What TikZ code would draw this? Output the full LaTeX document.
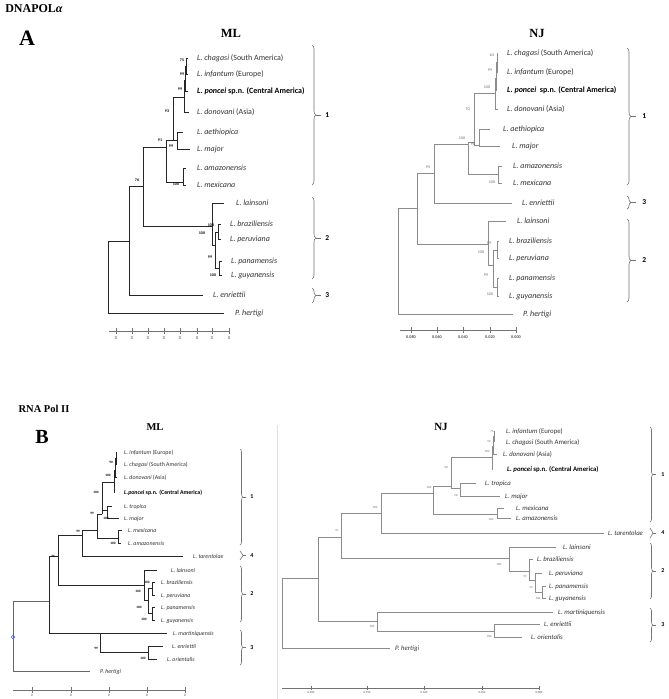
\documentclass[tikz,border=0pt]{standalone}
\usepackage{fontspec}
\setmainfont{Carlito}
\newfontfamily\headfont{Liberation Serif}
\usetikzlibrary{decorations.pathreplacing}

\begin{document}
\begin{tikzpicture}[x=1pt, y=-1pt,
        leaf/.style={anchor=west, inner sep=0pt, text height=0.7em, text depth=0.2em, text=black!80},
        lfa/.style={leaf, font=\fontsize{8}{9}\selectfont},
        lfb/.style={leaf, font=\fontsize{5.9}{7}\selectfont},
        lfn/.style={leaf, font=\fontsize{6.8}{8}\selectfont},
        ml/.style={draw=black!85, line width=0.9pt},
        nj/.style={draw=black!45, line width=0.7pt},
        bs/.style={inner sep=0pt, font=\bfseries\fontsize{4}{4}\selectfont},
        bsb/.style={inner sep=0pt, font=\bfseries\fontsize{3.4}{4}\selectfont},
        bsn/.style={inner sep=0pt, text=black!60, font=\fontsize{4}{4}\selectfont},
        bsm/.style={inner sep=0pt, text=black!60, font=\fontsize{3}{3}\selectfont},
        clade/.style={draw=black!55, line width=0.6pt, decorate, decoration={brace, amplitude=4pt}},
        cnum/.style={right=4pt, inner sep=0pt, text=black, font=\bfseries\fontsize{7.5}{8}\selectfont},
        cnumb/.style={right=3pt, inner sep=0pt, text=black, font=\bfseries\fontsize{6}{7}\selectfont},
        title/.style={inner sep=0pt, font=\headfont\bfseries\fontsize{12.5}{13}\selectfont},
        scl/.style={draw=black!55, line width=0.5pt},
        sclt/.style={inner sep=0pt, text=black!70, font=\fontsize{4.5}{5}\selectfont}]

    \path[use as bounding box, fill=white] (0,0) rectangle (669,699);

    % headings
    \node[title, font=\headfont\bfseries\fontsize{12}{13}\selectfont] (tDna) at (34,9) {DNAPOL\textit{α}};
    \node[title, font=\headfont\bfseries\fontsize{22}{24}\selectfont] (tA) at (27,38) {A};
    \node[title] (tMlA) at (231,33) {ML};
    \node[title] (tNjA) at (537,33) {NJ};
    \node[title, font=\headfont\bfseries\fontsize{10.5}{12}\selectfont] (tRna) at (44,409) {RNA Pol II};
    \node[title, font=\headfont\bfseries\fontsize{20}{22}\selectfont] (tB) at (42,437) {B};
    \node[title, font=\headfont\bfseries\fontsize{10.5}{12}\selectfont] (tMlB) at (155,427) {ML};
    \node[title, font=\headfont\bfseries\fontsize{11}{12}\selectfont] (tNjB) at (441,427) {NJ};

    % ---------- A, ML ----------
    \node[lfa] (aChag) at (197,58) {\textit{L. chagasi} (South America)};
    \node[lfa] (aInf) at (197,74) {\textit{L. infantum} (Europe)};
    \node[lfa, text=black] (aPon) at (197,91) {\textbf{\textit{L. poncei} sp.n. (Central America)}};
    \node[lfa] (aDon) at (197,112) {\textit{L. donovani} (Asia)};
    \node[lfa] (aAet) at (197,132) {\textit{L. aethiopica}};
    \node[lfa] (aMaj) at (197,149) {\textit{L. major}};
    \node[lfa] (aAma) at (197,168) {\textit{L. amazonensis}};
    \node[lfa] (aMex) at (197,185) {\textit{L. mexicana}};
    \node[lfa] (aLai) at (236,203) {\textit{L. lainsoni}};
    \node[lfa] (aBra) at (230,224) {\textit{L. braziliensis}};
    \node[lfa] (aPer) at (230,239) {\textit{L. peruviana}};
    \node[lfa] (aPan) at (231,261) {\textit{L. panamensis}};
    \node[lfa] (aGuy) at (231,275) {\textit{L. guyanensis}};
    \node[lfa] (aEnr) at (213,295) {\textit{L. enriettii}};
    \node[lfa] (aHer) at (235,313) {\textit{P. hertigi}};

    \coordinate (a1) at (186,66);
    \coordinate (a2) at (185,80);
    \coordinate (a3) at (184,97);
    \coordinate (a4) at (177,140);
    \coordinate (a5) at (173,140);
    \coordinate (a6) at (183,182);
    \coordinate (a7) at (166,147);
    \coordinate (a8) at (218,232);
    \coordinate (a9) at (219,268);
    \coordinate (a10) at (215,245);
    \coordinate (a11) at (212,226);
    \coordinate (a12) at (143,186);
    \coordinate (a13) at (129,241);
    \coordinate (aRoot) at (108,241);

    \draw[ml] (a1) |- ([xshift=-9pt]aChag.west) (a1) |- ([xshift=-9pt]aInf.west);
    \draw[ml] (a2) |- (a1) (a2) |- ([xshift=-9pt]aPon.west);
    \draw[ml] (a3) |- (a2) (a3) |- ([xshift=-8pt]aDon.west);
    \draw[ml] (a4) |- ([xshift=-14pt]aAet.west) (a4) |- ([xshift=-7pt]aMaj.west);
    \draw[ml] (a5) |- (a3) (a5) |- (a4);
    \draw[ml] (a6) |- ([xshift=-11pt]aAma.west) (a6) |- ([xshift=-11pt]aMex.west);
    \draw[ml] (a7) |- (a5) (a7) |- (a6);
    \draw[ml] (a8) |- ([xshift=-9pt]aBra.west) (a8) |- ([xshift=-9pt]aPer.west);
    \draw[ml] (a9) |- ([xshift=-9pt]aPan.west) (a9) |- ([xshift=-9pt]aGuy.west);
    \draw[ml] (a10) |- (a8) (a10) |- (a9);
    \draw[ml] (a11) |- ([xshift=-12pt]aLai.west) (a11) |- (a10);
    \draw[ml] (a12) |- (a7) (a12) |- (a11);
    \draw[ml] (a13) |- (a12) (a13) |- ([xshift=-10pt]aEnr.west);
    \draw[ml] (aRoot) |- (a13) (aRoot) |- ([xshift=-11pt]aHer.west);

    \node[bs] (sa1) at (182,60) {75};
    \node[bs] (sa2) at (182,74) {99};
    \node[bs] (sa3) at (180,89) {99};
    \node[bs] (sa4) at (167,111) {93};
    \node[bs] (sa5) at (160,140) {91};
    \node[bs] (sa6) at (171,146) {99};
    \node[bs] (sa7) at (176,184) {100};
    \node[bs] (sa8) at (137,180) {76};
    \node[bs] (sa9) at (211,225) {100};
    \node[bs] (sa10) at (202,233) {100};
    \node[bs] (sa11) at (210,257) {99};
    \node[bs] (sa12) at (213,275) {100};

    \coordinate (ka1t) at (312,45);  \coordinate (ka1b) at (312,185);
    \coordinate (ka2t) at (312,197); \coordinate (ka2b) at (312,279);
    \coordinate (ka3t) at (312,288); \coordinate (ka3b) at (312,303);
    \draw[clade] (ka1t) -- node[midway, cnum] (na1) {\textcolor{black!55}{\rule[.25em]{5pt}{.6pt}}\hspace{4pt}1} (ka1b);
    \draw[clade] (ka2t) -- node[midway, cnum] (na2) {\textcolor{black!55}{\rule[.25em]{5pt}{.6pt}}\hspace{4pt}2} (ka2b);
    \draw[clade] (ka3t) -- node[midway, cnum] (na3) {\textcolor{black!55}{\rule[.25em]{5pt}{.6pt}}\hspace{4pt}3} (ka3b);

    \draw[scl] (109,331) -- (229,331);
    \foreach \x [count=\i] in {116,132,148,164,180,197,212,229}
        \draw[scl] (\x,328) -- (\x,334) node[sclt, below=2pt] (qa\i) {0};

    % ---------- A, NJ ----------
    \node[lfa] (bChag) at (507,53) {\textit{L. chagasi} (South America)};
    \node[lfa] (bInf) at (507,72) {\textit{L. infantum} (Europe)};
    \node[lfa, text=black] (bPon) at (507,90) {\textbf{\textit{L. poncei}\ \ sp.n. (Central America)}};
    \node[lfa] (bDon) at (507,109) {\textit{L. donovani} (Asia)};
    \node[lfa] (bAet) at (503,129) {\textit{L. aethiopica}};
    \node[lfa] (bMaj) at (512,146) {\textit{L. major}};
    \node[lfa] (bAma) at (513,166) {\textit{L. amazonensis}};
    \node[lfa] (bMex) at (513,183) {\textit{L. mexicana}};
    \node[lfa] (bEnr) at (522,203) {\textit{L. enriettii}};
    \node[lfa] (bLai) at (517,221) {\textit{L. lainsoni}};
    \node[lfa] (bBra) at (509,241) {\textit{L. braziliensis}};
    \node[lfa] (bPer) at (509,258) {\textit{L. peruviana}};
    \node[lfa] (bPan) at (509,278) {\textit{L. panamensis}};
    \node[lfa] (bGuy) at (509,296) {\textit{L. guyanensis}};
    \node[lfa] (bHer) at (523,314) {\textit{P. hertigi}};

    \coordinate (b1) at (497,62);
    \coordinate (b2) at (496,78);
    \coordinate (b3) at (495,93);
    \coordinate (b4) at (479,145);
    \coordinate (b5) at (474,142);
    \coordinate (b6) at (468,144);
    \coordinate (b7) at (498,174);
    \coordinate (b8) at (434,173);
    \coordinate (b9) at (497,250);
    \coordinate (b10) at (497,287);
    \coordinate (b11) at (493,265);
    \coordinate (b12) at (488,244);
    \coordinate (b13) at (417,208);
    \coordinate (bRoot) at (398,208);

    \draw[nj] (b1) |- ([xshift=-9pt]bChag.west) (b1) |- ([xshift=-9pt]bInf.west);
    \draw[nj] (b2) |- (b1) (b2) |- ([xshift=-10pt]bPon.west);
    \draw[nj] (b3) |- (b2) (b3) |- ([xshift=-9pt]bDon.west);
    \draw[nj] (b4) |- ([xshift=-13pt]bAet.west) (b4) |- ([xshift=-12pt]bMaj.west);
    \draw[nj] (b5) |- (b3) (b5) |- (b4);
    \draw[nj] (b7) |- ([xshift=-11pt]bAma.west) (b7) |- ([xshift=-11pt]bMex.west);
    \draw[nj] (b6) |- (b5) (b6) |- (b7);
    \draw[nj] (b8) |- (b6) (b8) |- ([xshift=-10pt]bEnr.west);
    \draw[nj] (b9) |- ([xshift=-10pt]bBra.west) (b9) |- ([xshift=-10pt]bPer.west);
    \draw[nj] (b10) |- ([xshift=-10pt]bPan.west) (b10) |- ([xshift=-10pt]bGuy.west);
    \draw[nj] (b11) |- (b9) (b11) |- (b10);
    \draw[nj] (b12) |- ([xshift=-11pt]bLai.west) (b12) |- (b11);
    \draw[nj] (b13) |- (b8) (b13) |- (b12);
    \draw[nj] (bRoot) |- (b13) (bRoot) |- ([xshift=-10pt]bHer.west);

    \node[bsn] (sb1) at (492,55) {63};
    \node[bsn] (sb2) at (490,70) {99};
    \node[bsn] (sb3) at (487,87) {100};
    \node[bsn] (sb4) at (468,109) {92};
    \node[bsn] (sb5) at (462,138) {100};
    \node[bsn] (sb6) at (473,144) {98};
    \node[bsn] (sb7) at (492,182) {100};
    \node[bsn] (sb8) at (428,167) {95};
    \node[bsn] (sb9) at (489,243) {99};
    \node[bsn] (sb10) at (481,252) {100};
    \node[bsn] (sb11) at (486,275) {99};
    \node[bsn] (sb12) at (490,294) {100};

    \coordinate (kb1t) at (627,48);  \coordinate (kb1b) at (627,185);
    \coordinate (kb3t) at (627,196); \coordinate (kb3b) at (627,209);
    \coordinate (kb2t) at (627,219); \coordinate (kb2b) at (627,302);
    \draw[clade] (kb1t) -- node[midway, cnum] (nb1) {\textcolor{black!55}{\rule[.25em]{5pt}{.6pt}}\hspace{6pt}1} (kb1b);
    \draw[clade] (kb3t) -- node[midway, cnum] (nb3) {\textcolor{black!55}{\rule[.25em]{5pt}{.6pt}}\hspace{6pt}3} (kb3b);
    \draw[clade] (kb2t) -- node[midway, cnum] (nb2) {\textcolor{black!55}{\rule[.25em]{5pt}{.6pt}}\hspace{6pt}2} (kb2b);

    \draw[scl] (400,330) -- (516,330);
    \foreach \x/\v [count=\i] in {411/0.080, 437/0.060, 463/0.040, 490/0.020, 516/0.000}
        \draw[scl] (\x,327) -- (\x,333) node[sclt, below=2pt, font=\bfseries\fontsize{4.2}{5}\selectfont] (qb\i) {\v};

    % ---------- B, ML ----------
    \node[lfb] (cInf) at (124,452) {\textit{L. infantum} (Europe)};
    \node[lfb] (cChag) at (124,464) {\textit{L. chagasi} (South America)};
    \node[lfb] (cDon) at (124,477) {\textit{L. donovani} (Asia)};
    \node[lfb, text=black] (cPon) at (124,492) {\textbf{\textit{L.poncei} sp.n. (Central America)}};
    \node[lfb] (cTro) at (124,506) {\textit{L. tropica}};
    \node[lfb] (cMaj) at (124,518) {\textit{L. major}};
    \node[lfb] (cMex) at (128,530) {\textit{L. mexicana}};
    \node[lfb] (cAma) at (128,543) {\textit{L. amazonensis}};
    \node[lfb] (cTar) at (193,556) {\textit{L. tarentolae}};
    \node[lfb] (cLai) at (171,570) {\textit{L. lainsoni}};
    \node[lfb] (cBra) at (161,582) {\textit{L. braziliensis}};
    \node[lfb] (cPer) at (161,595) {\textit{L. peruviana}};
    \node[lfb] (cPan) at (161,607) {\textit{L. panamensis}};
    \node[lfb] (cGuy) at (161,620) {\textit{L. guyanensis}};
    \node[lfb] (cMar) at (173,633) {\textit{L. martiniquensis}};
    \node[lfb] (cEnr) at (172,646) {\textit{L. enriettii}};
    \node[lfb] (cOri) at (167,659) {\textit{L. orientalis}};
    \node[lfb] (cHer) at (100,671) {\textit{P. hertigi}};

    \coordinate (c1) at (116,458);
    \coordinate (c2) at (115,470);
    \coordinate (c3) at (114,482);
    \coordinate (c4) at (107,510);
    \coordinate (c5) at (102,514);
    \coordinate (c6) at (118,538);
    \coordinate (c7) at (97,530);
    \coordinate (c8) at (82,535);
    \coordinate (c9) at (152,588);
    \coordinate (c10) at (152,613);
    \coordinate (c11) at (148,600);
    \coordinate (c12) at (144,585);
    \coordinate (c13) at (58,556);
    \coordinate (c14) at (148,652);
    \coordinate (c15) at (100,633);
    \coordinate (c16) at (49,601);
    \coordinate (cRoot) at (13,601);

    \draw[ml] (c1) |- ([xshift=-7pt]cInf.west) (c1) |- ([xshift=-7pt]cChag.west);
    \draw[ml] (c2) |- (c1) (c2) |- ([xshift=-7pt]cDon.west);
    \draw[ml] (c3) |- (c2) (c3) |- ([xshift=-9pt]cPon.west);
    \draw[ml] (c4) |- ([xshift=-12pt]cTro.west) (c4) |- ([xshift=-5pt]cMaj.west);
    \draw[ml] (c5) |- (c3) (c5) |- (c4);
    \draw[ml] (c6) |- ([xshift=-6pt]cMex.west) (c6) |- ([xshift=-7pt]cAma.west);
    \draw[ml] (c7) |- (c5) (c7) |- (c6);
    \draw[ml] (c8) |- (c7) (c8) |- ([xshift=-10pt]cTar.west);
    \draw[ml] (c9) |- ([xshift=-6pt]cBra.west) (c9) |- ([xshift=-6pt]cPer.west);
    \draw[ml] (c10) |- ([xshift=-6pt]cPan.west) (c10) |- ([xshift=-6pt]cGuy.west);
    \draw[ml] (c11) |- (c9) (c11) |- (c10);
    \draw[ml] (c12) |- ([xshift=-14pt]cLai.west) (c12) |- (c11);
    \draw[ml] (c13) |- (c8) (c13) |- (c12);
    \draw[ml] (c14) |- ([xshift=-9pt]cEnr.west) (c14) |- ([xshift=-10pt]cOri.west);
    \draw[ml] (c15) |- ([xshift=-6pt]cMar.west) (c15) |- (c14);
    \draw[ml] (c16) |- (c13) (c16) |- (c15);
    \draw[ml, draw=black!60] (cRoot) |- (c16) (cRoot) |- ([xshift=-10pt]cHer.west);
    \node[draw=blue!70, circle, inner sep=0pt, minimum size=3.5pt, line width=0.5pt] (cMark) at (13,637) {};

    \node[bsb] (sc1) at (111,462) {90};
    \node[bsb] (sc2) at (108,475) {100};
    \node[bsb] (sc3) at (96,492) {100};
    \node[bsb] (sc4) at (92,513) {99};
    \node[bsb] (sc5) at (106,518) {100};
    \node[bsb] (sc6) at (78,531) {99};
    \node[bsb] (sc7) at (113,543) {100};
    \node[bsb] (sc8) at (53,556) {46};
    \node[bsb] (sc9) at (147,582) {100};
    \node[bsb] (sc10) at (138,591) {100};
    \node[bsb] (sc11) at (139,607) {100};
    \node[bsb] (sc12) at (144,619) {100};
    \node[bsb] (sc13) at (96,648) {99};
    \node[bsb] (sc14) at (143,658) {100};

    \coordinate (kc1t) at (240,449); \coordinate (kc1b) at (240,545);
    \coordinate (kc4t) at (240,551); \coordinate (kc4b) at (240,560);
    \coordinate (kc2t) at (240,566); \coordinate (kc2b) at (240,622);
    \coordinate (kc3t) at (240,630); \coordinate (kc3b) at (240,665);
    \draw[clade, decoration={amplitude=3pt}] (kc1t) -- node[midway, cnumb] (nc1) {\textcolor{black!55}{\rule[.25em]{3pt}{.5pt}}\hspace{4pt}1} (kc1b);
    \draw[clade, decoration={amplitude=3pt}] (kc4t) -- node[midway, cnumb] (nc4) {\textcolor{black!55}{\rule[.25em]{3pt}{.5pt}}\hspace{4pt}4} (kc4b);
    \draw[clade, decoration={amplitude=3pt}] (kc2t) -- node[midway, cnumb] (nc2) {\textcolor{black!55}{\rule[.25em]{3pt}{.5pt}}\hspace{4pt}2} (kc2b);
    \draw[clade, decoration={amplitude=3pt}] (kc3t) -- node[midway, cnumb] (nc3) {\textcolor{black!55}{\rule[.25em]{3pt}{.5pt}}\hspace{4pt}3} (kc3b);

    \draw[scl] (13,690) -- (185,690);
    \foreach \x [count=\i] in {32,71,109,147,185}
        \draw[scl] (\x,687) -- (\x,693) node[sclt, below=1pt, font=\fontsize{3.5}{4}\selectfont] (qc\i) {0};

    \draw[black!12, line width=0.6pt] (277,425) -- (277,699);

    % ---------- B, NJ ----------
    \node[lfn] (dInf) at (506,431) {\textit{L. infantum} (Europe)};
    \node[lfn] (dChag) at (506,442) {\textit{L. chagasi} (South America)};
    \node[lfn] (dDon) at (503,454) {\textit{L. donovani} (Asia)};
    \node[lfn, text=black] (dPon) at (507,469) {\textbf{\textit{L. poncei} sp.n. (Central America)}};
    \node[lfn] (dTro) at (485,483) {\textit{L. tropica}};
    \node[lfn] (dMaj) at (505,496) {\textit{L. major}};
    \node[lfn] (dMex) at (516,508) {\textit{L. mexicana}};
    \node[lfn] (dAma) at (516,518) {\textit{L. amazonensis}};
    \node[lfn] (dTar) at (608,533) {\textit{L. tarentolae}};
    \node[lfn] (dLai) at (563,547) {\textit{L. lainsoni}};
    \node[lfn] (dBra) at (537,559) {\textit{L. braziliensis}};
    \node[lfn] (dPer) at (549,573) {\textit{L. peruviana}};
    \node[lfn] (dPan) at (549,586) {\textit{L. panamensis}};
    \node[lfn] (dGuy) at (549,598) {\textit{L. guyanensis}};
    \node[lfn] (dMar) at (558,612) {\textit{L. martiniquensis}};
    \node[lfn] (dEnr) at (544,624) {\textit{L. enriettii}};
    \node[lfn] (dOri) at (531,637) {\textit{L. orientalis}};
    \node[lfn] (dHer) at (395,648) {\textit{P. hertigi}};

    \coordinate (d1) at (494,436);
    \coordinate (d2) at (493,446);
    \coordinate (d3) at (492,457);
    \coordinate (d4) at (460,488);
    \coordinate (d5) at (451,486);
    \coordinate (d6) at (497,514);
    \coordinate (d7) at (433,493);
    \coordinate (d8) at (381,513);
    \coordinate (d9) at (542,592);
    \coordinate (d10) at (535,580);
    \coordinate (d11) at (529,571);
    \coordinate (d12) at (509,558);
    \coordinate (d13) at (341,537);
    \coordinate (d14) at (494,631);
    \coordinate (d15) at (377,621);
    \coordinate (d16) at (318,578);
    \coordinate (dRoot) at (282,578);

    \draw[nj] (d1) |- ([xshift=-11pt]dInf.west) (d1) |- ([xshift=-12pt]dChag.west);
    \draw[nj] (d2) |- (d1) (d2) |- ([xshift=-6pt]dDon.west);
    \draw[nj] (d3) |- (d2) (d3) |- ([xshift=-14pt]dPon.west);
    \draw[nj] (d4) |- ([xshift=-9pt]dTro.west) (d4) |- ([xshift=-5pt]dMaj.west);
    \draw[nj] (d5) |- (d3) (d5) |- (d4);
    \draw[nj] (d6) |- ([xshift=-12pt]dMex.west) (d6) |- ([xshift=-5pt]dAma.west);
    \draw[nj] (d7) |- (d5) (d7) |- (d6);
    \draw[nj] (d8) |- (d7) (d8) |- ([xshift=-4pt]dTar.west);
    \draw[nj] (d9) |- ([xshift=-3pt]dPan.west) (d9) |- ([xshift=-3pt]dGuy.west);
    \draw[nj] (d10) |- ([xshift=-7pt]dPer.west) (d10) |- (d9);
    \draw[nj] (d11) |- ([xshift=-4pt]dBra.west) (d11) |- (d10);
    \draw[nj] (d12) |- ([xshift=-7pt]dLai.west) (d12) |- (d11);
    \draw[nj] (d13) |- (d8) (d13) |- (d12);
    \draw[nj] (d14) |- ([xshift=-4pt]dEnr.west) (d14) |- ([xshift=-9pt]dOri.west);
    \draw[nj] (d15) |- ([xshift=-5pt]dMar.west) (d15) |- (d14);
    \draw[nj] (d16) |- (d13) (d16) |- (d15);
    \draw[nj] (dRoot) |- (d16) (dRoot) |- ([xshift=-5pt]dHer.west);

    \node[bsm] (sd1) at (492,431) {76};
    \node[bsm] (sd2) at (489,442) {99};
    \node[bsm] (sd3) at (487,452) {100};
    \node[bsm] (sd4) at (446,467) {98};
    \node[bsm] (sd5) at (456,495) {98};
    \node[bsm] (sd6) at (429,488) {100};
    \node[bsm] (sd7) at (491,520) {100};
    \node[bsm] (sd8) at (375,508) {100};
    \node[bsm] (sd9) at (337,531) {91};
    \node[bsm] (sd10) at (499,565) {100};
    \node[bsm] (sd11) at (525,577) {99};
    \node[bsm] (sd12) at (531,588) {94};
    \node[bsm] (sd13) at (538,599) {100};
    \node[bsm] (sd14) at (372,627) {100};
    \node[bsm] (sd15) at (489,637) {100};

    \coordinate (kd1t) at (650,427); \coordinate (kd1b) at (650,522);
    \coordinate (kd4t) at (650,528); \coordinate (kd4b) at (650,538);
    \coordinate (kd2t) at (650,543); \coordinate (kd2b) at (650,599);
    \coordinate (kd3t) at (650,608); \coordinate (kd3b) at (650,642);
    \draw[clade, decoration={amplitude=3pt}] (kd1t) -- node[midway, cnumb] (nd1) {\textcolor{black!55}{\rule[.25em]{3pt}{.5pt}}\hspace{5pt}1} (kd1b);
    \draw[clade, decoration={amplitude=3pt}] (kd4t) -- node[midway, cnumb] (nd4) {\textcolor{black!55}{\rule[.25em]{3pt}{.5pt}}\hspace{5pt}4} (kd4b);
    \draw[clade, decoration={amplitude=3pt}] (kd2t) -- node[midway, cnumb] (nd2) {\textcolor{black!55}{\rule[.25em]{3pt}{.5pt}}\hspace{5pt}2} (kd2b);
    \draw[clade, decoration={amplitude=3pt}] (kd3t) -- node[midway, cnumb] (nd3) {\textcolor{black!55}{\rule[.25em]{3pt}{.5pt}}\hspace{5pt}3} (kd3b);

    \draw[scl] (282,688) -- (539,688);
    \foreach \x/\v [count=\i] in {311/0.200, 367/0.150, 424/0.100, 482/0.050, 539/0.000}
        \draw[scl] (\x,686) -- (\x,690) node[sclt, below=1pt, font=\fontsize{3}{3}\selectfont] (qd\i) {\v};
\end{tikzpicture}
\end{document}
